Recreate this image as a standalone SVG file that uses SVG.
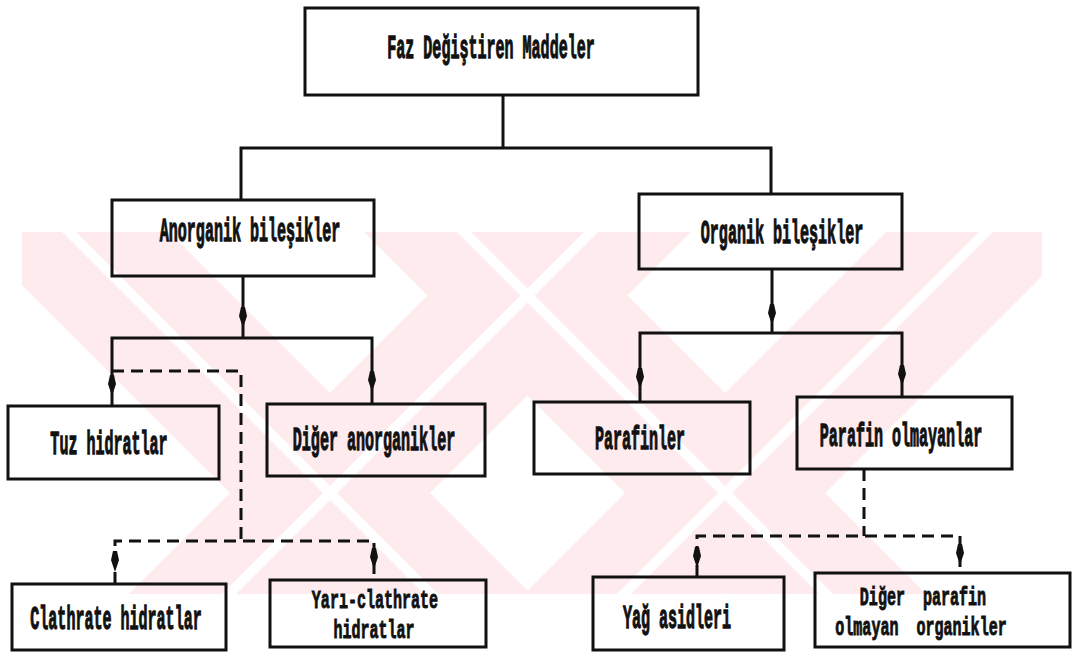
<svg xmlns="http://www.w3.org/2000/svg" width="1075" height="659" viewBox="0 0 1075 659">
  <defs>
    <style>
      .box { fill: none; stroke: #111; stroke-width: 3; }
      .line { fill: none; stroke: #111; stroke-width: 3; stroke-linejoin: miter; }
      .dash { fill: none; stroke: #111; stroke-width: 3; stroke-dasharray: 12 7; }
      .lbl { font-family: "Liberation Mono", "DejaVu Sans Mono", monospace; font-weight: bold; font-size: 32px; fill: #111; stroke: #111; stroke-width: 1.2; text-anchor: middle; }
      .wm { fill: #fdebee; }
      .gap { fill: #ffffff; }
    </style>
    <path id="ah" d="M-2,-11 L2,-11 L4,-2 L0,10 L-4,-2 Z" fill="#111"/>
    <clipPath id="wmclip"><rect x="22" y="232" width="1020" height="362"/></clipPath>
  </defs>

  <rect width="1075" height="659" fill="#ffffff"/>

  <g id="watermark" clip-path="url(#wmclip)">
    <polygon class="wm" points="-31,232 169,232 532,595 332,595"/>
    <polygon class="wm" points="491,232 691,232 328,595 128,595"/>
    <polygon class="wm" points="364,232 564,232 927,595 727,595"/>
    <polygon class="wm" points="886,232 1086,232 723,595 523,595"/>
    <polygon class="gap" points="62,232 76,232 439,595 425,595"/>
    <polygon class="gap" points="584,232 598,232 235,595 221,595"/>
    <polygon class="gap" points="457,232 471,232 834,595 820,595"/>
    <polygon class="gap" points="979,232 993,232 630,595 616,595"/>
  </g>

  <g id="connectors">
    <polyline class="line" points="503,95 503,148"/>
    <polyline class="line" points="241,200 241,148 771,148 771,194"/>
    <polyline class="line" points="243,276 243,338"/>
    <polyline class="line" points="112,406 112,338 372,338 372,404"/>
    <polyline class="line" points="772,269 772,333"/>
    <polyline class="line" points="640,402 640,333 902,333 902,397"/>
    <polyline class="dash" points="112,371 241,371 241,541"/>
    <polyline class="dash" points="115,584 115,541 374,541 374,580"/>
    <polyline class="dash" points="864,469 864,536"/>
    <polyline class="dash" points="697,577 697,536 960,536 960,573"/>
    <use href="#ah" x="243" y="318"/>
    <use href="#ah" x="112" y="386"/>
    <use href="#ah" x="372" y="382"/>
    <use href="#ah" x="772" y="315"/>
    <use href="#ah" x="640" y="379"/>
    <use href="#ah" x="902" y="376"/>
    <use href="#ah" x="115" y="562"/>
    <use href="#ah" x="374" y="559"/>
    <use href="#ah" x="697" y="558"/>
    <use href="#ah" x="960" y="555"/>
  </g>

  <g id="node-faz">
    <rect class="box" x="305" y="8" width="393" height="87"/>
    <text class="lbl" transform="translate(491,58) scale(0.47,1.05)">Faz Değiştiren Maddeler</text>
  </g>
  <g id="node-anorganik">
    <rect class="box" x="112" y="200" width="262" height="76"/>
    <text class="lbl" transform="translate(250,241) scale(0.47,1.05)">Anorganik bileşikler</text>
  </g>
  <g id="node-organik">
    <rect class="box" x="639" y="194" width="263" height="75"/>
    <text class="lbl" transform="translate(782,243) scale(0.47,1.05)">Organik bileşikler</text>
  </g>
  <g id="node-tuz">
    <rect class="box" x="8" y="406" width="211" height="73"/>
    <text class="lbl" transform="translate(109,454) scale(0.47,1.05)">Tuz hidratlar</text>
  </g>
  <g id="node-diger-anorganik">
    <rect class="box" x="267" y="404" width="218" height="72"/>
    <text class="lbl" transform="translate(374,450) scale(0.47,1.05)">Diğer anorganikler</text>
  </g>
  <g id="node-parafinler">
    <rect class="box" x="534" y="402" width="216" height="72"/>
    <text class="lbl" transform="translate(640,449) scale(0.47,1.05)">Parafinler</text>
  </g>
  <g id="node-parafin-olmayanlar">
    <rect class="box" x="797" y="397" width="215" height="72"/>
    <text class="lbl" transform="translate(901,446) scale(0.47,1.05)">Parafin olmayanlar</text>
  </g>
  <g id="node-clathrate">
    <rect class="box" x="12" y="584" width="214" height="66"/>
    <text class="lbl" transform="translate(116,629) scale(0.47,1.05)">Clathrate hidratlar</text>
  </g>
  <g id="node-yari-clathrate">
    <rect class="box" x="270" y="580" width="216" height="67"/>
    <text class="lbl" transform="translate(375,608) scale(0.47,0.82)">Yarı-clathrate</text>
    <text class="lbl" transform="translate(374,638) scale(0.47,0.82)">hidratlar</text>
  </g>
  <g id="node-yag-asidleri">
    <rect class="box" x="593" y="577" width="191" height="73"/>
    <text class="lbl" transform="translate(677,628) scale(0.47,1.05)">Yağ asidleri</text>
  </g>
  <g id="node-diger-parafin">
    <rect class="box" x="815" y="573" width="255" height="74"/>
    <text class="lbl" transform="translate(923,605) scale(0.47,0.82)" xml:space="preserve">Diğer  parafin</text>
    <text class="lbl" transform="translate(921,635) scale(0.47,0.82)" xml:space="preserve">olmayan  organikler</text>
  </g>
</svg>
